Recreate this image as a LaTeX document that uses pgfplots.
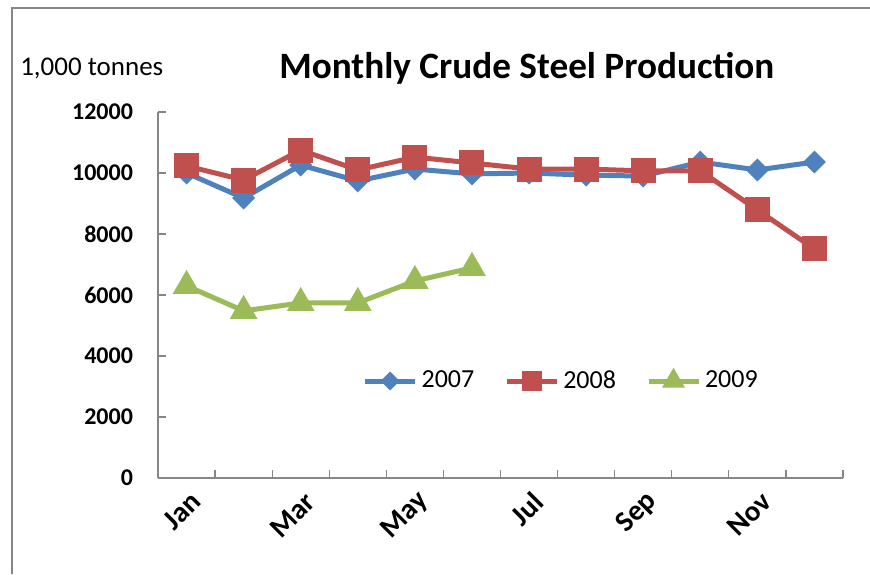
\documentclass[border=0pt]{standalone}
\usepackage{pgfplots}
\pgfplotsset{compat=1.18}
\usepackage{fontspec}
\setmainfont{Carlito}
\definecolor{c07}{HTML}{4F81BD}
\definecolor{c08}{HTML}{C0504D}
\definecolor{c09}{HTML}{9BBB59}
\definecolor{axgray}{HTML}{868686}
\begin{document}
\begin{tikzpicture}
\path[use as bounding box] (-79pt,-48pt) rectangle (356pt,239pt);
\draw[axgray,line width=1pt] (-73pt,-48pt) -- (-73pt,235pt) -- (356pt,235pt);
\begin{axis}[
  at={(0,0)}, anchor=south west,
  scale only axis, width=342.5pt, height=183pt,
  axis x line=bottom, axis y line=left,
  axis line style={-,axgray,line width=0.8pt},
  xmin=-0.5, xmax=11.5, ymin=0, ymax=12000,
  xtick={0,...,11},
  xticklabels={Jan,,Mar,,May,,Jul,,Sep,,Nov,},
  major x tick style={draw=none},
  minor xtick={-0.5,0.5,...,11.5},
  minor x tick style={axgray,line width=0.6pt},
  minor tick length=4pt,
  ytick={0,2000,...,12000},
  y tick style={axgray,line width=0.6pt},
  major tick length=4pt,
  tick align=inside,
  scaled y ticks=false,
  /pgf/number format/1000 sep={},
  /pgf/number format/assume math mode=true,
  yticklabel style={font=\fontsize{12}{14}\selectfont\bfseries, xshift=-9pt},
  xticklabel style={font=\fontsize{14.5}{16}\selectfont\bfseries, rotate=45, anchor=east, xshift=0pt, yshift=-10pt},
  legend style={at={(0.59,0.265)}, anchor=center, draw=none, fill=none,
    legend columns=3, font=\fontsize{13}{15}\selectfont,
    /tikz/every even column/.append style={column sep=13pt}},
  legend image code/.code={
    \draw[#1,mark=none] (0pt,0pt) -- (25pt,0pt);
    \draw[#1,every mark/.append style={scale=0.75}] plot coordinates {(12.5pt,0pt)};},
  clip=false,
]
\addplot[c07, line width=2.5pt, mark=square*, mark size=2.8pt, mark options={rotate=45, solid}] coordinates {
(0,10000) (1,9180) (2,10260) (3,9740) (4,10130) (5,9970) (6,10000) (7,9930) (8,9900) (9,10360) (10,10100) (11,10360)};
\addlegendentry{2007}
\addplot[c08, line width=2.5pt, mark=square*, mark size=5pt] coordinates {
(0,10230) (1,9770) (2,10750) (3,10100) (4,10520) (5,10330) (6,10130) (7,10130) (8,10070) (9,10070) (10,8790) (11,7510)};
\addlegendentry{2008}
\addplot[c09, line width=2.5pt, mark=triangle*, mark size=5.5pt] coordinates {
(0,6300) (1,5480) (2,5740) (3,5740) (4,6460) (5,6890)};
\addlegendentry{2009}
\node[font=\fontsize{18.6}{22}\selectfont\bfseries] at (axis cs:5.96,13430) {Monthly Crude Steel Production};
\node[font=\fontsize{13.5}{16}\selectfont] at (axis cs:-1.66,13440) {1,000 tonnes};
\end{axis}
\end{tikzpicture}
\end{document}
